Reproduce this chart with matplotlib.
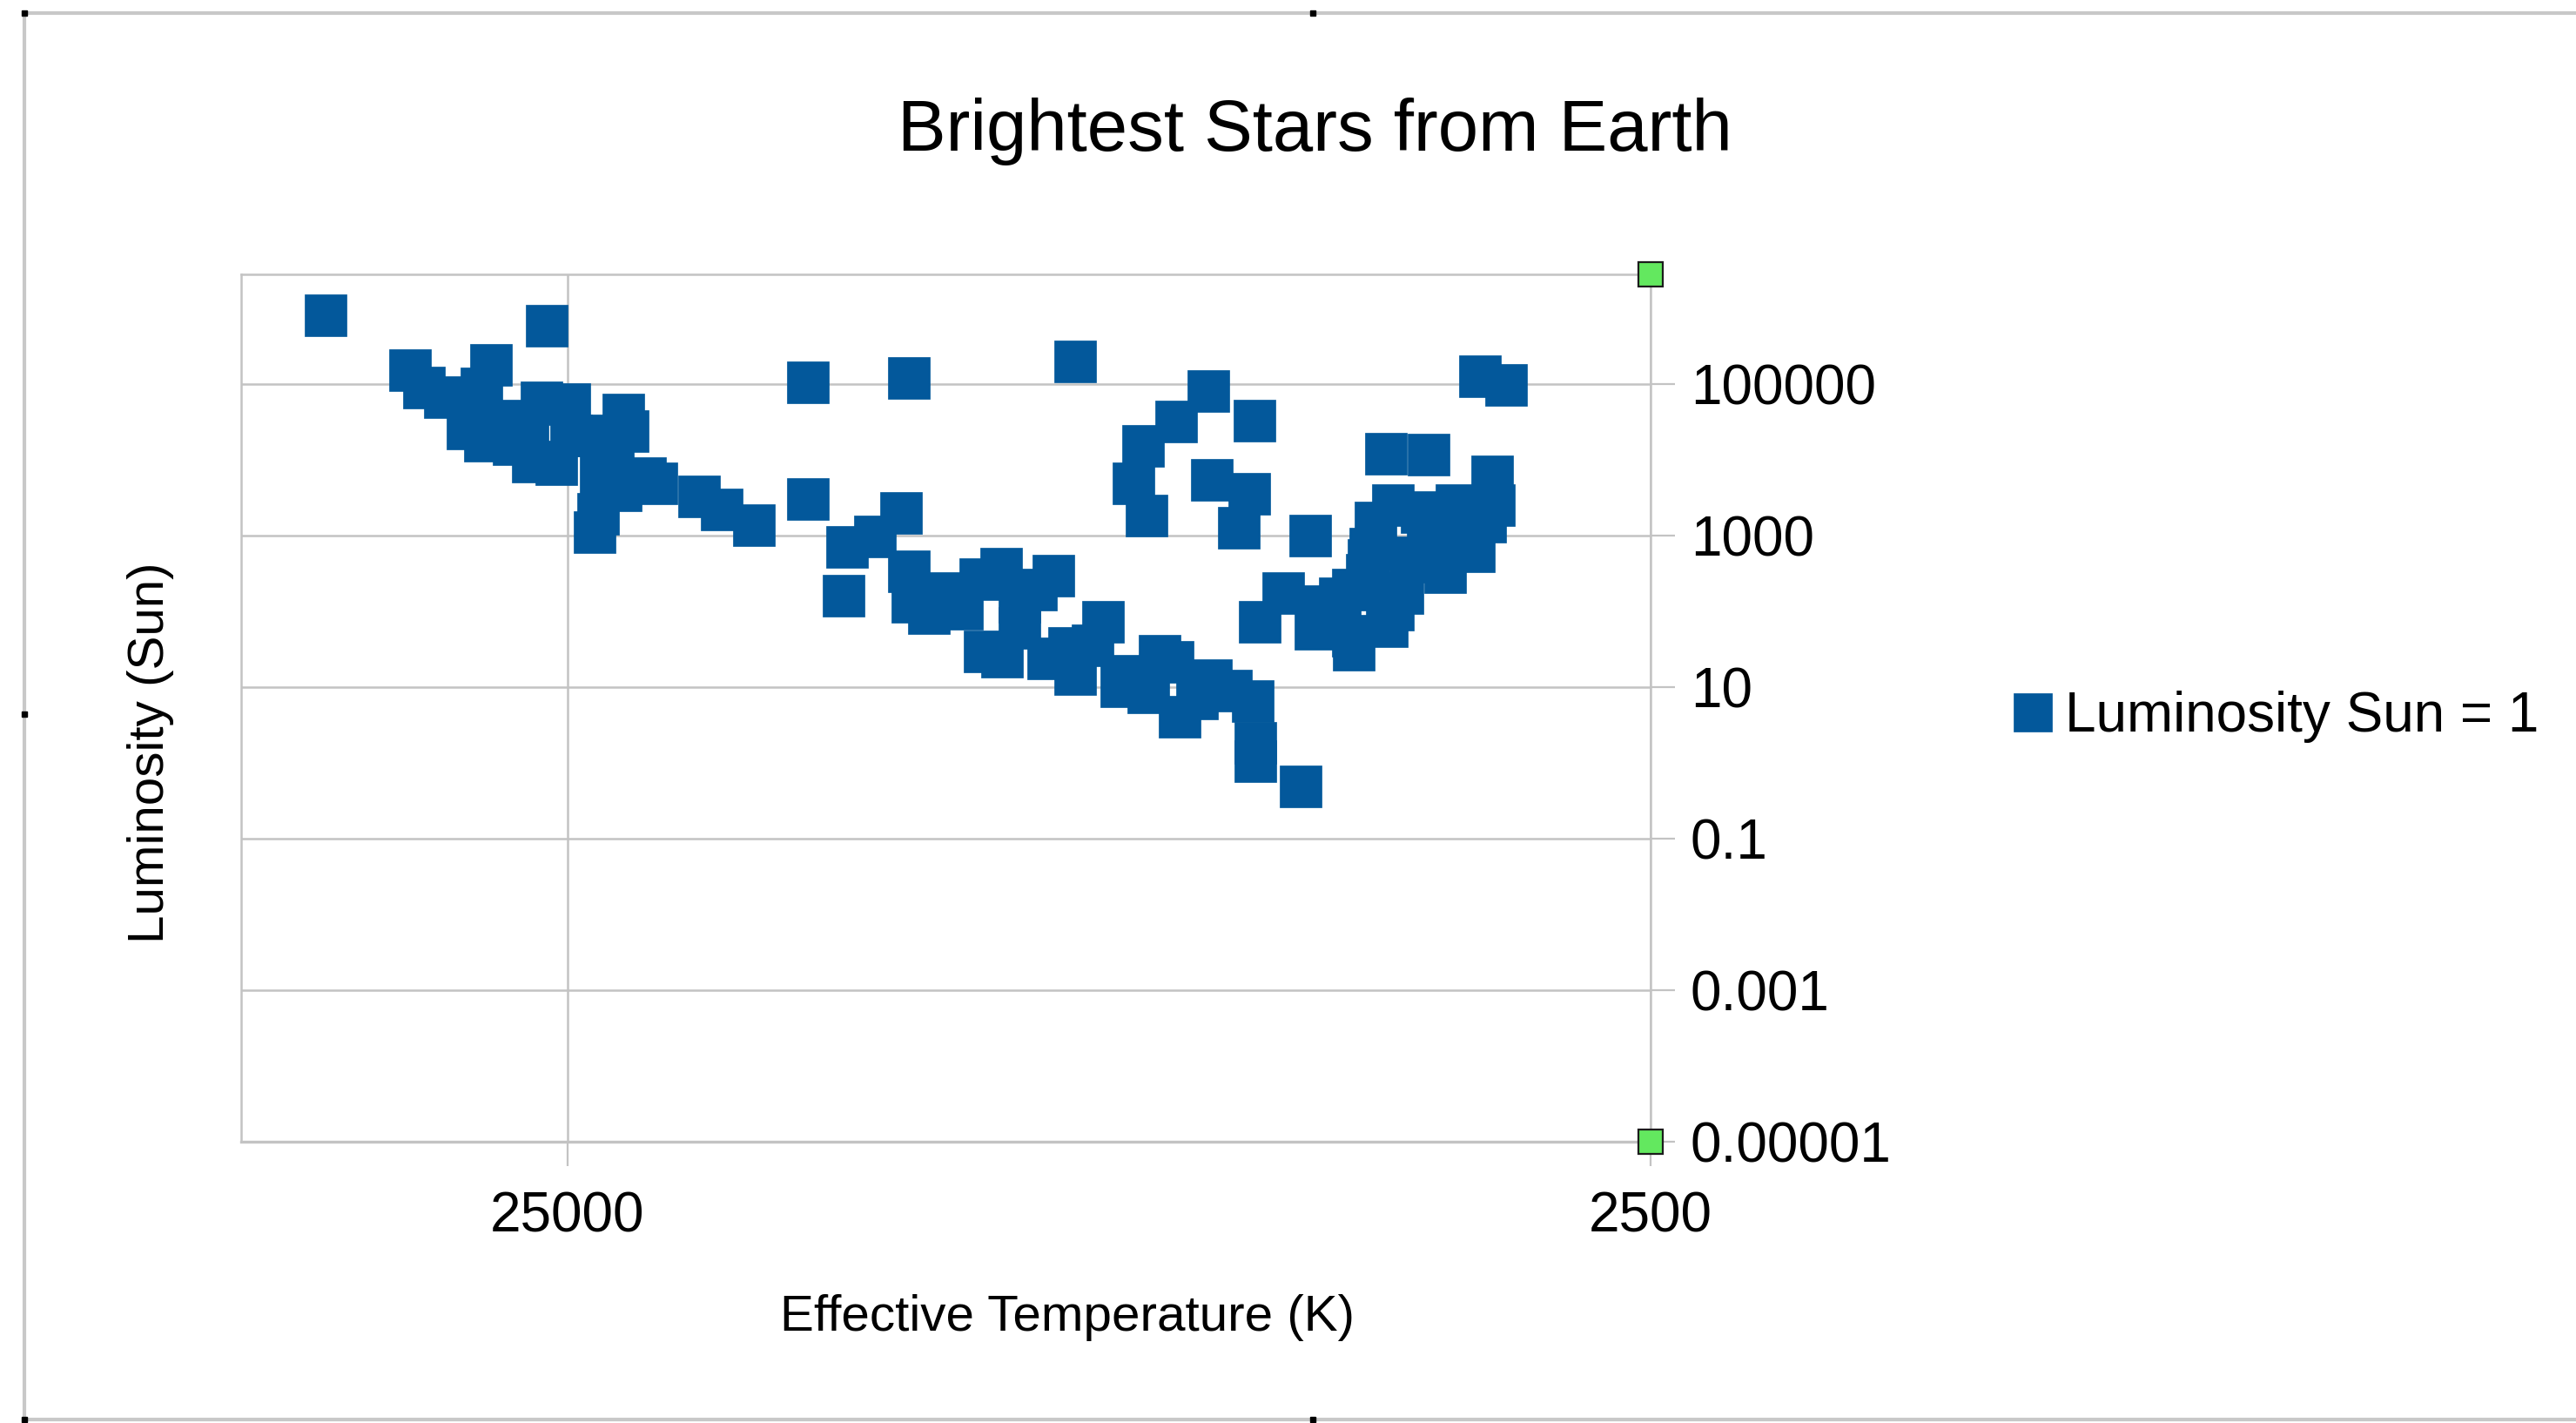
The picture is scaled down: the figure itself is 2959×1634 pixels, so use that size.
import matplotlib
matplotlib.use("Agg")
import matplotlib.pyplot as plt
from matplotlib.lines import Line2D
from matplotlib.ticker import NullLocator

plt.rcParams['font.family'] = ['Liberation Sans', 'DejaVu Sans']

# ----------------------------------------------------------------------
TITLE = "Brightest Stars from Earth"
X_LABEL = "Effective Temperature (K)"
Y_LABEL = "Luminosity (Sun)"
SERIES_NAME = "Luminosity Sun = 1"

# hot / blue giants and main sequence (left part)
temp_hot = [41800, 26100, 34900, 33900, 32400, 29400, 30000, 30900, 29800, 28500,
            26400, 24900, 27200, 25600, 22200, 22000, 22700, 21200, 20700, 22300,
            23400, 23600, 18900, 18000, 16800, 15000, 15000, 12100, 12300, 13000,
            13800, 24000, 28000, 26900, 24800, 23300]
lum_hot = [813000, 591000, 153000, 89900, 67200, 179000, 88000, 25800, 17800, 32800,
           57300, 54300, 25800, 8710, 39500, 23900, 12300, 5700, 4860, 3930,
           1920, 1100, 3260, 2190, 1360, 105000, 3020, 120000, 1970, 964,
           701, 20900, 16000, 9400, 21000, 6300]

# main sequence A-G stars
temp_main = [13900, 12100, 12000, 11600, 10800, 10400, 9950, 8900, 10300, 9930,
             9000, 8600, 8500, 8000, 7700, 7270, 7100, 6900, 6800, 6550,
             6100, 5820, 5790, 5790, 5260, 9230, 11200, 9570, 9570, 8180,
             7530, 6370]
lum_main = [159, 333, 132, 95.9, 107, 263, 361, 292, 29.8, 25.4,
            24.1, 33.2, 15.0, 73.5, 10.3, 8.58, 26.1, 21.7, 4.08, 7.12,
            9.04, 6.58, 1.84, 1.05, 0.489, 191, 176, 135, 61, 36,
            14, 12.3]

# supergiants / bright giants
temp_super = [8490, 6400, 6850, 7350, 7500, 7300, 5800, 6350, 5870, 6000, 5150, 3590, 3400]
lum_super = [199000, 80900, 32000, 15200, 4860, 1820, 32800, 5400, 3530, 1260, 990, 127000, 97400]

# cool giants (right part)
temp_cool = [4390, 4010, 3500, 3490, 4320, 4070, 3780, 3550, 4540, 4110,
             3870, 3640, 4710, 4240, 5040, 4710, 4380, 4700, 5740, 5460,
             5100, 4840, 4550, 3800, 4015, 3730, 4485, 4320, 4920, 4165,
             4570]
lum_cool = [12000, 11700, 6010, 2500, 2500, 2030, 2500, 1510, 665, 446,
            325, 614, 196, 176, 118, 48.1, 64.4, 31.5, 73.5, 172,
            59.4, 147, 471, 1130, 1130, 870, 1480, 104, 61, 510,
            300]

x_ticks = [25000, 2500]
x_tick_labels = ["25000", "2500"]
y_ticks = [1e5, 1e3, 1e1, 1e-1, 1e-3, 1e-5]
y_tick_labels = ["100000", "1000", "10", "0.1", "0.001", "0.00001"]
X_RANGE = (50000, 2500)
Y_RANGE = (1e-5, 2.8e6)
# ----------------------------------------------------------------------

W, H = 2959, 1634
BLUE = "#03589b"
GRID = "#c3c3c3"


def fx(px):
    return px / W


def fy(py):
    return 1 - py / H


temperature = temp_hot + temp_main + temp_super + temp_cool
luminosity = lum_hot + lum_main + lum_super + lum_cool

fig = plt.figure(figsize=(W / 100, H / 100), dpi=100)
ax = fig.add_axes([fx(277), fy(1311), fx(1896) - fx(277), fy(315) - fy(1311)])

ax.plot(temperature, luminosity, linestyle="none", marker="s", markersize=34.5,
        markerfacecolor=BLUE, markeredgecolor=BLUE, markeredgewidth=0.5,
        label=SERIES_NAME, zorder=3)

ax.set_xscale("log")
ax.set_yscale("log")
ax.set_xlim(*X_RANGE)
ax.set_ylim(*Y_RANGE)

ax.set_xticks(x_ticks)
ax.set_xticklabels(x_tick_labels)
ax.set_yticks(y_ticks)
ax.set_yticklabels(y_tick_labels)
ax.xaxis.set_minor_locator(NullLocator())
ax.yaxis.set_minor_locator(NullLocator())
ax.yaxis.tick_right()

ax.tick_params(axis="both", length=20, width=1.6, color=GRID, labelsize=46,
               labelcolor="black")
ax.tick_params(axis="x", pad=21)
ax.tick_params(axis="y", pad=13)

ax.grid(True, color=GRID, linewidth=1.8, zorder=0)
ax.set_axisbelow(True)
for sp in ax.spines.values():
    sp.set_color(GRID)
    sp.set_linewidth(1.8)
ax.spines["bottom"].set_linewidth(2.4)

# green selection handles at the right corners of the plot area
ax.plot([X_RANGE[1], X_RANGE[1]], [Y_RANGE[1], Y_RANGE[0]], linestyle="none",
        marker="s", markersize=20, markerfacecolor="#63e85f",
        markeredgecolor="#1c1c1c", markeredgewidth=1.6, clip_on=False, zorder=6)

fig.text(fx(1510), fy(173), TITLE, fontsize=60, ha="center", va="baseline")
fig.text(fx(1226), fy(1528), X_LABEL, fontsize=42, ha="center", va="baseline")
fig.text(fx(173), fy(864), Y_LABEL, fontsize=42, rotation=90, ha="center", va="center")

ax.legend(loc="center left", bbox_to_anchor=(fx(2313), fy(823)),
          bbox_transform=fig.transFigure, frameon=False, fontsize=46,
          markerscale=0.92, handlelength=0.7, handletextpad=0.22,
          borderpad=0, borderaxespad=0)

# outer chart frame (gray border with black handles)
border = dict(color="#c8c8c8", linewidth=3, transform=fig.transFigure)
fig.add_artist(Line2D([fx(28), 1], [fy(15), fy(15)], **border))
fig.add_artist(Line2D([fx(28), fx(28)], [fy(15), fy(1630)], **border))
fig.add_artist(Line2D([fx(28), 1], [fy(1630), fy(1630)], **border))
for hx, hy in [(28, 15), (1508, 15), (28, 820), (28, 1630), (1508, 1630)]:
    fig.add_artist(Line2D([fx(hx)], [fy(hy)], marker="s", markersize=4.5,
                          color="black", transform=fig.transFigure))

fig.savefig("out.png", dpi=100, facecolor="white")
